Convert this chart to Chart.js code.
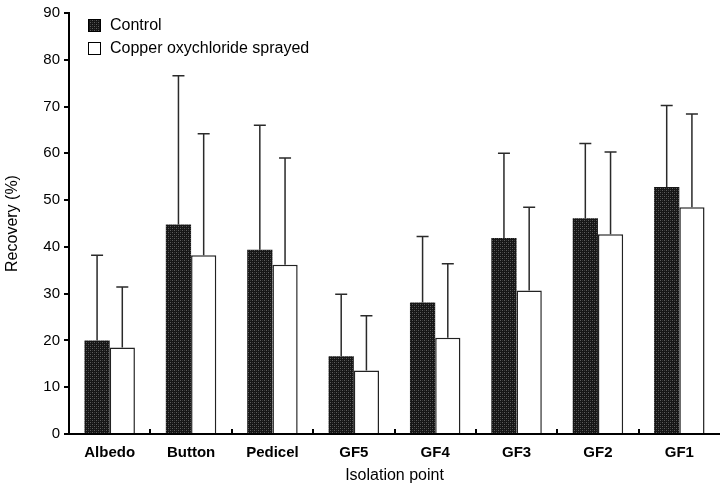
<!DOCTYPE html>
<html>
<head>
<meta charset="utf-8">
<script src="https://cdn.jsdelivr.net/npm/chart.js@4.4.0/dist/chart.umd.min.js"></script>
<style>
  html, body { margin: 0; padding: 0; background: #fff; }
  #wrap { width: 720px; height: 485px; }
</style>
</head>
<body>
<div id="wrap"><canvas id="chart"></canvas></div>
<script>
var categories = ["Albedo", "Button", "Pedicel", "GF5", "GF4", "GF3", "GF2", "GF1"];
var control = [20, 44.8, 39.4, 16.6, 28.1, 41.9, 46.1, 52.8];
var control_err_top = [38.2, 76.6, 66.0, 29.9, 42.2, 60.0, 62.1, 70.2];
var copper = [18.5, 38.2, 36.2, 13.6, 20.6, 30.7, 42.7, 48.5];
var copper_err_top = [31.4, 64.2, 59.0, 25.3, 36.4, 48.5, 60.3, 68.4];
var y_ticks = [0, 10, 20, 30, 40, 50, 60, 70, 80, 90];

var FONT = "'Liberation Sans', Arial, Helvetica, sans-serif";

// grainy dark fill for the control bars
function makeGrain() {
    var c = document.createElement("canvas");
    c.width = 4; c.height = 4;
    var g = c.getContext("2d");
    g.fillStyle = "#161616";
    g.fillRect(0, 0, 4, 4);
    g.fillStyle = "#5e5e5e";
    g.fillRect(0, 0, 1, 1);
    g.fillRect(2, 2, 1, 1);
    g.fillStyle = "#383838";
    g.fillRect(2, 0, 1, 1);
    g.fillRect(0, 2, 1, 1);
    return g.createPattern(c, "repeat");
}
var grain = makeGrain();

// upper error bars, category tick marks and the legend
var extras = {
    id: "extras",
    afterDatasetsDraw: function(chart) {
        var ctx = chart.ctx;
        var y = chart.scales.y;
        var x = chart.scales.x;
        var tops = [control_err_top, copper_err_top];
        ctx.save();
        ctx.strokeStyle = "#2a2a2a";
        ctx.lineWidth = 1.5;
        for (let d = 0; d < 2; d++) {
            var meta = chart.getDatasetMeta(d);
            for (let i = 0; i < meta.data.length; i++) {
                var bar = meta.data[i];
                var yTop = y.getPixelForValue(tops[d][i]);
                ctx.beginPath();
                ctx.moveTo(bar.x, bar.y);
                ctx.lineTo(bar.x, yTop);
                ctx.moveTo(bar.x - 6, yTop);
                ctx.lineTo(bar.x + 6, yTop);
                ctx.stroke();
            }
        }
        ctx.strokeStyle = "#000";
        ctx.lineWidth = 2;
        var step = (x.right - x.left) / categories.length;
        for (let i = 1; i < categories.length; i++) {
            var px = Math.round(x.left + step * i);
            ctx.beginPath();
            ctx.moveTo(px, y.bottom);
            ctx.lineTo(px, y.bottom - 5);
            ctx.stroke();
        }
        ctx.restore();
    },
    afterDraw: function(chart) {
        var ctx = chart.ctx;
        var left = chart.chartArea.left + 19;
        var top = chart.chartArea.top + 6;
        var items = [
            { text: "Control", fill: grain },
            { text: "Copper oxychloride sprayed", fill: "#fff" }
        ];
        ctx.save();
        ctx.font = "16px " + FONT;
        ctx.textBaseline = "middle";
        for (let i = 0; i < items.length; i++) {
            var yy = top + i * 23;
            ctx.fillStyle = items[i].fill;
            ctx.fillRect(left, yy, 13, 13);
            ctx.strokeStyle = "#000";
            ctx.lineWidth = 1;
            ctx.strokeRect(left + 0.5, yy + 0.5, 12, 12);
            ctx.fillStyle = "#000";
            ctx.fillText(items[i].text, left + 22, yy + 7);
        }
        ctx.restore();
    }
};

const ctx = document.getElementById("chart").getContext("2d");
const myChart = new Chart(ctx, {
    type: "bar",
    data: {
        labels: categories,
        datasets: [{
                label: "Control",
                data: control,
                backgroundColor: grain,
                borderColor: "#111",
                borderWidth: 0,
            },
            {
                label: "Copper oxychloride sprayed",
                data: copper,
                backgroundColor: "#fff",
                borderColor: "#222",
                borderWidth: 1.5,
                borderSkipped: "bottom",
            },
        ],
    },
    plugins: [extras],
    options: {
        responsive: true,
        maintainAspectRatio: false,
        animation: false,
        devicePixelRatio: 1,
        categoryPercentage: 0.62,
        barPercentage: 1.0,
        layout: { padding: { top: 6, right: 0, left: 0, bottom: 0 } },
        plugins: {
            legend: { display: false },
            tooltip: { enabled: false },
        },
        scales: {
            x: {
                grid: { display: false, drawTicks: false },
                border: { display: true, color: "#000", width: 2 },
                ticks: {
                    color: "#000",
                    padding: 10,
                    font: { family: FONT, size: 15, weight: "bold" },
                },
                title: {
                    display: true,
                    text: "Isolation point",
                    color: "#000",
                    padding: { top: 3, bottom: 0 },
                    font: { family: FONT, size: 16 },
                },
                afterFit: function(s) { s.height = 51; },
            },
            y: {
                min: 0,
                max: 90,
                afterBuildTicks: function(s) {
                    s.ticks = y_ticks.map(function(v) { return { value: v }; });
                },
                grid: {
                    drawOnChartArea: false,
                    drawTicks: true,
                    tickLength: 5,
                    color: "#000",
                    lineWidth: 2,
                },
                border: { display: true, color: "#000", width: 2 },
                ticks: {
                    color: "#000",
                    padding: 4,
                    font: { family: FONT, size: 15 },
                },
                title: {
                    display: true,
                    text: "Recovery (%)",
                    color: "#000",
                    padding: { top: 3, bottom: 6 },
                    font: { family: FONT, size: 16 },
                },
                afterFit: function(s) { s.width = 69; },
            },
        },
    },
});
</script>
</body>
</html>
